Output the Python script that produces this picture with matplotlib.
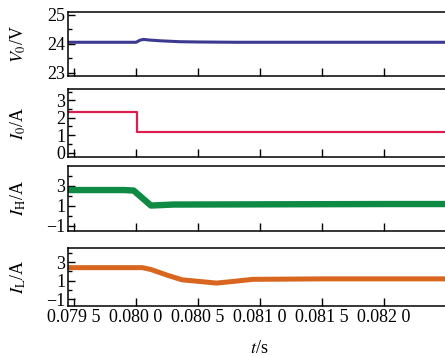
import numpy as np
import matplotlib.pyplot as plt
from matplotlib.ticker import MultipleLocator

plt.rcParams['font.family'] = ['Liberation Serif', 'DejaVu Serif']
plt.rcParams['mathtext.fontset'] = 'stix'
plt.rcParams['font.size'] = 13

# datos
t_v0 = [0.07945, 0.08000, 0.08003, 0.08006, 0.08010, 0.08020, 0.08035, 0.08050, 0.08080, 0.08254]
v0 = [24.05, 24.05, 24.12, 24.15, 24.13, 24.10, 24.07, 24.06, 24.05, 24.05]

t_i0 = [0.07945, 0.080005, 0.080005, 0.08254]
i0 = [2.35, 2.35, 1.2, 1.2]

t_ih = [0.07945, 0.07990, 0.07998, 0.08012, 0.08030, 0.08100, 0.08200, 0.08254]
ih = [2.55, 2.55, 2.5, 1.0, 1.1, 1.12, 1.15, 1.15]

t_il = [0.07945, 0.08005, 0.08012, 0.08025, 0.08037, 0.08065, 0.08080, 0.08094, 0.08150, 0.08254]
il = [2.4, 2.4, 2.2, 1.6, 1.1, 0.75, 0.95, 1.15, 1.2, 1.2]

xticks = [0.0795, 0.0800, 0.0805, 0.0810, 0.0815, 0.0820, 0.0825]
xlabels = ['0.079 5', '0.080 0', '0.080 5', '0.081 0', '0.081 5', '0.082 0', '']

paneles = [
    (t_v0, v0, '#3b3990', 2.2, r'$V_0$/V', (22.88, 25.1), [23, 24, 25], 0.5),
    (t_i0, i0, '#dc1f4f', 1.6, r'$I_0$/A', (-0.25, 3.65), [0, 1, 2, 3], 0.5),
    (t_ih, ih, '#0e8a44', 4.6, r'$I_\mathrm{H}$/A', (-1.55, 4.95), [-1, 1, 3], 1),
    (t_il, il, '#d8661f', 3.6, r'$I_\mathrm{L}$/A', (-1.7, 4.5), [-1, 1, 3], 1),
]
posiciones = [
    (0.1528, 0.7865, 0.86, 0.1798),
    (0.1528, 0.559, 0.86, 0.191),
    (0.1528, 0.351, 0.86, 0.1826),
    (0.1528, 0.1404, 0.86, 0.163),
]

fig = plt.figure(figsize=(4.45, 3.56), dpi=100)
for i, (t, y, color, lw, etiqueta, ylim, yt, minor) in enumerate(paneles):
    ax = fig.add_axes(posiciones[i])
    ax.plot(t, y, color=color, lw=lw, solid_joinstyle='round')
    ax.set_xlim(0.07945, 0.08254)
    ax.set_ylim(*ylim)
    ax.set_yticks(yt)
    ax.yaxis.set_minor_locator(MultipleLocator(minor))
    ax.set_xticks(xticks)
    ax.tick_params(direction='in', length=5, width=1, pad=2)
    ax.tick_params(which='minor', direction='in', length=3, width=1)
    ax.tick_params(axis='x', length=6)
    ax.tick_params(axis='y', labelsize=13)
    ax.spines['right'].set_visible(False)
    for s in ax.spines.values():
        s.set_linewidth(1.1)
    ax.set_ylabel(etiqueta, fontsize=13)
    ax.yaxis.set_label_coords(-0.105, 0.5)
    if i < 3:
        ax.set_xticklabels([])
    else:
        ax.set_xticklabels(xlabels, fontsize=13)
        ax.set_xlabel(r'$t$/s', fontsize=13, labelpad=10)

fig.savefig('out.png', dpi=100)
